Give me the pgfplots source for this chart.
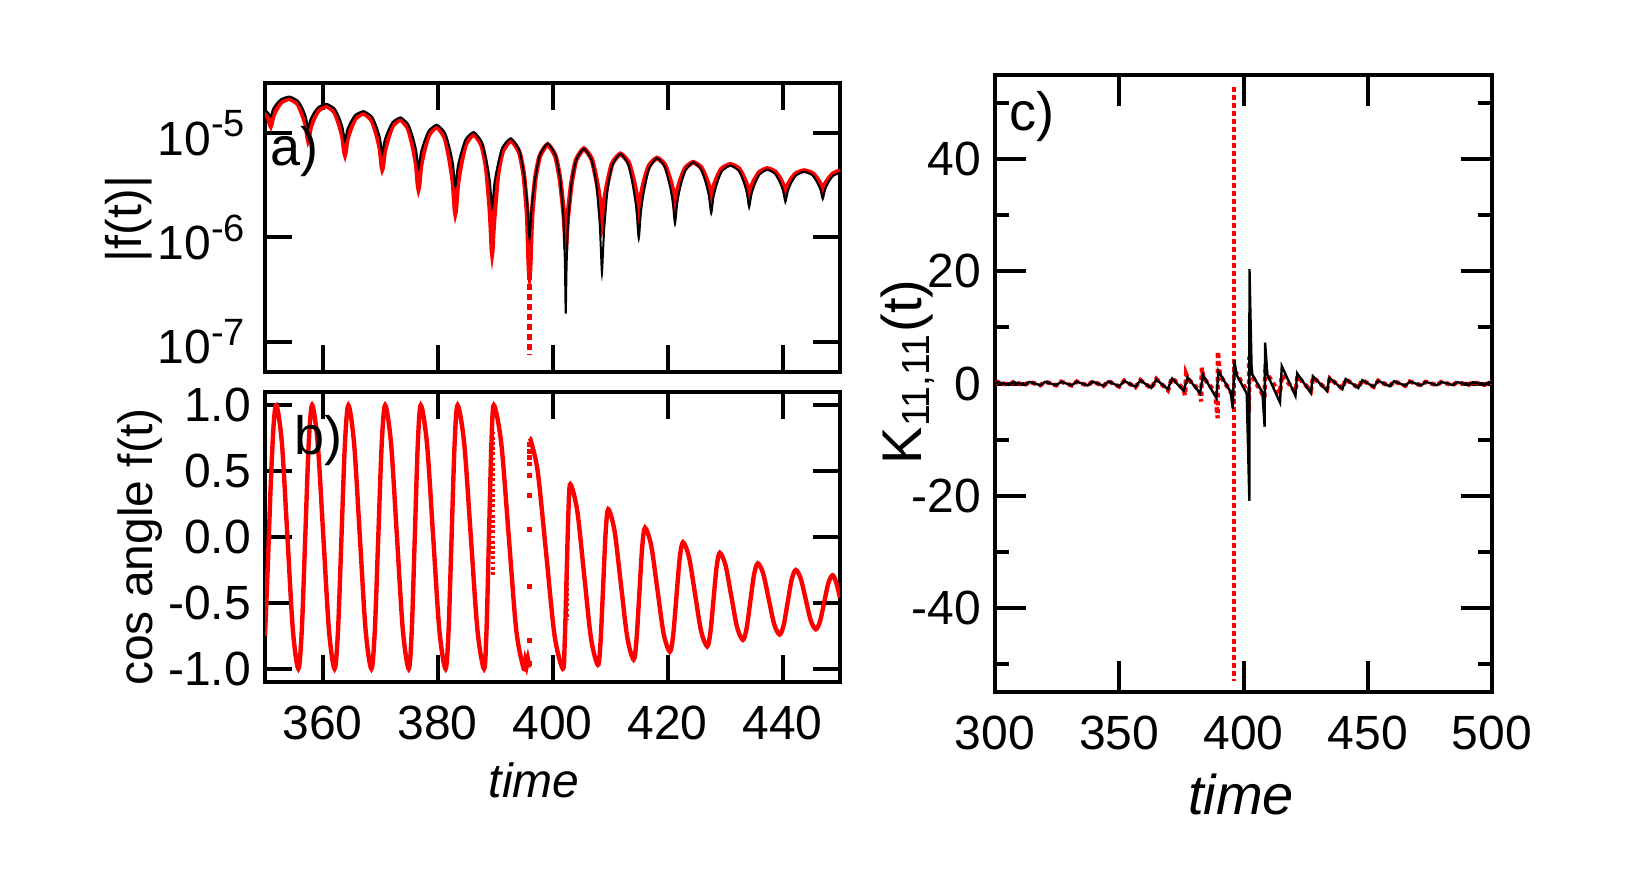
\documentclass[border=0pt]{standalone}
\usepackage{fontspec}
\setmainfont{Liberation Sans}
\usepackage{pgfplots}
\pgfplotsset{compat=1.18}

\newcommand{\tenpow}[1]{10\raisebox{4.6pt}{\fontsize{9.5}{10}\selectfont #1}}

\pgfplotsset{
  frame/.style={
    scale only axis,
    anchor=south west,
    axis line style={line width=1pt},
    tick style={black, line width=1pt},
    tick align=inside,
    major tick length=6.7pt,
    minor tick length=3.6pt,
    ticklabel style={font=\fontsize{12}{14}\selectfont},
    xticklabel style={yshift=-2.5pt},
  },
  reddots/.style={red, line width=1.1pt, dash pattern=on 1.1pt off 0.9pt},
}

\begin{document}
\begin{tikzpicture}[font=\fontsize{12}{14}\selectfont]
\path (0pt,0pt) rectangle (407pt,223pt);

% a) |f(t)| (log10 values)
\begin{axis}[frame, at={(66.25pt,130pt)}, width=143.75pt, height=72.25pt,
  xmin=350, xmax=450, ymin=-7.29, ymax=-4.52,
  xtick={360,380,400,420,440}, xticklabels={},
  ytick={-7,-6,-5},
  yticklabels={\tenpow{-7},\tenpow{-6},\tenpow{-5}},
  yticklabel style={xshift=-1.5pt}]
\addplot[red, line width=1.2pt, smooth, tension=0.35] coordinates {
(350,-4.79) (350.6,-4.86) (351.0,-4.93) (351.4,-4.84) (352.0,-4.77) (352.8,-4.704) (354.25,-4.67)
(355.7,-4.72) (356.5,-4.82) (357.1,-4.92) (357.5,-5.06) (357.9,-4.95) (358.5,-4.86) (359.3,-4.782) (360.7,-4.74)
(362.1,-4.80) (362.9,-4.915) (363.5,-5.04) (363.9,-5.20) (364.3,-5.06) (364.9,-4.96) (365.7,-4.86) (367.15,-4.81)
(368.6,-4.88) (369.4,-5.01) (370.0,-5.15) (370.4,-5.34) (370.8,-5.175) (371.4,-5.05) (372.2,-4.93) (373.55,-4.87)
(374.9,-4.956) (375.7,-5.12) (376.3,-5.30) (376.7,-5.53) (377.1,-5.32) (377.7,-5.16) (378.5,-5.017) (379.9,-4.94)
(381.3,-5.047) (382.1,-5.25) (382.7,-5.47) (383.1,-5.76) (383.5,-5.50) (384.1,-5.295) (384.9,-5.108) (386.3,-5.01)
(387.7,-5.12) (388.5,-5.34) (389.1,-5.72) (389.35,-5.97) (389.5,-6.14) (389.65,-5.98) (389.9,-5.78) (390.5,-5.40) (391.3,-5.18) (392.75,-5.07)
(394.2,-5.18) (395.0,-5.40) (395.6,-5.78) (395.85,-6.20) (395.97,-6.35) (396.03,-6.35) (396.15,-6.21) (396.4,-5.82) (397.0,-5.44) (397.8,-5.22) (399.15,-5.11)
(400.5,-5.22) (401.3,-5.44) (401.9,-5.74) (402.15,-5.93) (402.3,-6.12) (402.45,-5.97) (402.7,-5.78) (403.3,-5.48) (404.1,-5.26) (405.45,-5.15)
(406.8,-5.248) (407.6,-5.435) (408.2,-5.64) (408.6,-5.90) (409.0,-5.655) (409.6,-5.47) (410.4,-5.29) (411.8,-5.20)
(413.2,-5.278) (414.0,-5.43) (414.6,-5.59) (415.0,-5.80) (415.4,-5.60) (416.0,-5.45) (416.8,-5.313) (418.15,-5.24)
(419.5,-5.30) (420.3,-5.42) (420.9,-5.545) (421.3,-5.71) (421.7,-5.56) (422.3,-5.443) (423.1,-5.336) (424.45,-5.28)
(425.8,-5.327) (426.6,-5.417) (427.2,-5.514) (427.6,-5.64) (428.0,-5.52) (428.6,-5.43) (429.4,-5.344) (430.9,-5.30)
(432.4,-5.34) (433.2,-5.418) (433.8,-5.50) (434.2,-5.61) (434.6,-5.515) (435.2,-5.443) (436.0,-5.375) (437.35,-5.34)
(438.7,-5.371) (439.5,-5.43) (440.1,-5.496) (440.5,-5.58) (440.9,-5.503) (441.5,-5.444) (442.3,-5.389) (443.75,-5.36)
(445.2,-5.386) (446.0,-5.436) (446.6,-5.49) (447.0,-5.56) (447.4,-5.49) (448.0,-5.44) (448.8,-5.39) (450,-5.36)};
\addplot[red, line width=1.2pt, dash pattern=on 1.5pt off 1pt] coordinates {(396.0,-6.35) (396.0,-7.12)};
\addplot[black, line width=0.5pt, smooth, tension=0.35] coordinates {
(350,-4.78) (350.6,-4.81) (351.0,-4.84) (351.4,-4.77) (352.0,-4.72) (352.8,-4.675) (354.25,-4.65)
(355.7,-4.69) (356.5,-4.76) (357.1,-4.845) (357.5,-4.95) (357.9,-4.87) (358.5,-4.807) (359.3,-4.75) (360.7,-4.72)
(362.1,-4.765) (362.9,-4.85) (363.5,-4.95) (363.9,-5.07) (364.3,-4.97) (364.9,-4.896) (365.7,-4.826) (367.15,-4.79)
(368.6,-4.842) (369.4,-4.94) (370.0,-5.05) (370.4,-5.19) (370.8,-5.07) (371.4,-4.98) (372.2,-4.894) (373.55,-4.85)
(374.9,-4.914) (375.7,-5.036) (376.3,-5.17) (376.7,-5.34) (377.1,-5.19) (377.7,-5.08) (378.5,-4.975) (379.9,-4.92)
(381.3,-4.997) (382.1,-5.14) (382.7,-5.30) (383.1,-5.51) (383.5,-5.33) (384.1,-5.19) (384.9,-5.058) (386.3,-4.99)
(387.7,-5.084) (388.5,-5.26) (389.1,-5.46) (389.5,-5.71) (389.9,-5.48) (390.5,-5.30) (391.3,-5.136) (392.75,-5.05)
(394.2,-5.16) (395.0,-5.38) (395.6,-5.67) (396.0,-6.01) (396.4,-5.69) (397.0,-5.43) (397.8,-5.21) (399.15,-5.10)
(400.5,-5.21) (401.3,-5.43) (401.9,-5.81) (402.15,-6.23) (402.3,-6.73) (402.45,-6.28) (402.7,-5.86) (403.3,-5.48) (404.1,-5.26) (405.45,-5.15)
(406.8,-5.26) (407.6,-5.48) (408.2,-5.86) (408.45,-6.17) (408.6,-6.35) (408.75,-6.18) (409.0,-5.91) (409.6,-5.53) (410.4,-5.31) (411.8,-5.20)
(413.2,-5.305) (414.0,-5.51) (414.6,-5.73) (415.0,-6.01) (415.4,-5.74) (416.0,-5.53) (416.8,-5.34) (418.15,-5.24)
(419.5,-5.322) (420.3,-5.48) (420.9,-5.65) (421.3,-5.87) (421.7,-5.66) (422.3,-5.50) (423.1,-5.357) (424.45,-5.28)
(425.8,-5.344) (426.6,-5.466) (427.2,-5.60) (427.6,-5.77) (428.0,-5.61) (428.6,-5.485) (429.4,-5.37) (430.9,-5.31)
(432.4,-5.362) (433.2,-5.46) (433.8,-5.57) (434.2,-5.71) (434.6,-5.584) (435.2,-5.487) (436.0,-5.397) (437.35,-5.35)
(438.7,-5.39) (439.5,-5.468) (440.1,-5.55) (440.5,-5.66) (440.9,-5.56) (441.5,-5.48) (442.3,-5.408) (443.75,-5.37)
(445.2,-5.404) (446.0,-5.47) (446.6,-5.54) (447.0,-5.63) (447.4,-5.54) (448.0,-5.47) (448.8,-5.41) (450,-5.38)};
\end{axis}

% b) cos angle f(t)
\begin{axis}[frame, at={(66.25pt,52.5pt)}, width=143.75pt, height=72.5pt,
  xmin=350, xmax=450, ymin=-1.1, ymax=1.1,
  xtick={360,380,400,420,440}, xticklabels={360,380,400,420,440},
  ytick={-1,-0.5,0,0.5,1}, yticklabels={-1.0,-0.5,0.0,0.5,1.0}]
\addplot[red, line width=1.1pt, smooth] coordinates {
(350,-0.75) (350.5,-0.2) (351.0,0.4) (351.5,0.85) (352.0,1.0)
(352.95,0.707) (353.9,0) (354.85,-0.707) (355.8,-1)
(356.4,-0.707) (357.0,0) (357.6,0.707) (358.2,1)
(359.175,0.707) (360.15,0) (361.125,-0.707) (362.1,-1)
(362.7,-0.707) (363.3,0) (363.9,0.707) (364.5,1)
(365.5,0.707) (366.5,0) (367.5,-0.707) (368.5,-1)
(369.1,-0.707) (369.7,0) (370.3,0.707) (370.9,1)
(371.925,0.707) (372.95,0) (373.975,-0.707) (375.0,-1)
(375.525,-0.707) (376.05,0) (376.575,0.707) (377.1,1)
(378.175,0.707) (379.25,0) (380.325,-0.707) (381.4,-1)
(381.925,-0.707) (382.45,0) (382.975,0.707) (383.5,1)
(384.65,0.707) (385.8,0) (386.95,-0.707) (388.1,-1)
(388.525,-0.707) (388.95,0) (389.375,0.707) (389.8,1)
(391.1,0.707) (392.4,0) (393.7,-0.707) (395.0,-1)
(395.3,-0.93) (395.5,-0.98) (395.7,-0.92) (395.9,-0.99)};
\addplot[red, line width=1.1pt, smooth] coordinates {
(396.0,0.75) (396.3,0.72) (397.45,0.49) (398.9,-0.125) (400.35,-0.745) (401.8,-1.0)
(402.125,-0.80) (402.45,-0.30) (402.775,0.20) (403.1,0.40)
(404.3,0.20) (405.5,-0.285) (406.7,-0.77) (407.9,-0.97)
(408.35,-0.80) (408.8,-0.38) (409.25,0.04) (409.7,0.21)
(410.8,0.044) (411.9,-0.36) (413.0,-0.76) (414.1,-0.93)
(414.6,-0.784) (415.1,-0.43) (415.6,-0.076) (416.1,0.07)
(417.175,-0.067) (418.25,-0.40) (419.325,-0.733) (420.4,-0.87)
(420.975,-0.749) (421.55,-0.455) (422.125,-0.161) (422.7,-0.04)
(423.75,-0.155) (424.8,-0.435) (425.85,-0.715) (426.9,-0.83)
(427.45,-0.726) (428.0,-0.475) (428.55,-0.224) (429.1,-0.12)
(430.1,-0.216) (431.1,-0.45) (432.1,-0.684) (433.1,-0.78)
(433.75,-0.695) (434.4,-0.49) (435.05,-0.285) (435.7,-0.20)
(436.65,-0.279) (437.6,-0.47) (438.55,-0.661) (439.5,-0.74)
(440.2,-0.668) (440.9,-0.495) (441.6,-0.322) (442.3,-0.25)
(443.175,-0.316) (444.05,-0.475) (444.925,-0.634) (445.8,-0.70)
(446.525,-0.64) (447.25,-0.495) (447.975,-0.35) (448.7,-0.29)
(449.3,-0.34) (450,-0.46)};
\addplot[red, line width=1.1pt, dash pattern=on 0.7pt off 0.6pt] coordinates {(389.65,0.8) (389.65,-0.3)};
\addplot[red, line width=1.1pt, dash pattern=on 0.7pt off 0.6pt] coordinates {(402.5,-0.07) (402.5,-0.63)};
\addplot[red, only marks, mark=square*, mark size=0.42pt] coordinates {
(395.97,0.70) (395.97,0.65) (395.97,0.605) (395.97,0.554) (395.97,0.465) (395.97,0.312)
(395.97,0.057) (395.97,-0.376) (395.97,-0.783) (395.97,-0.962)};
\end{axis}

% c) K_{11,11}(t)
\begin{axis}[frame, at={(248.75pt,50pt)}, width=124.25pt, height=154.25pt,
  xmin=300, xmax=500, ymin=-55, ymax=55,
  major tick length=7.7pt,
  xtick={300,350,400,450,500}, xticklabels={300,350,400,450,500},
  ytick={-40,-20,0,20,40}, yticklabels={-40,-20,0,20,40},
  minor ytick={-50,-30,-10,10,30,50}]
\addplot[reddots] coordinates {
(300.0,0.0) (301.2,0.27) (305.5,-0.27) (307.5,0.27) (311.9,-0.3) (313.9,0.3) (318.2,-0.32) (320.2,0.32)
(324.6,-0.33) (326.6,0.33) (330.9,-0.35) (332.9,0.35) (337.3,-0.38) (339.3,0.38) (343.6,-0.45) (345.6,0.42)
(350.0,-0.55) (352.0,0.5) (356.5,-0.65) (358.5,0.6) (362.9,-0.85) (364.9,0.8) (369.6,-1.2) (371.2,1.0)
(375.7,-0.9) (376.5,-2.1) (376.9,1.7) (377.7,0.8)
(382.2,-1.2) (383.0,-3.2) (383.2,2.8) (383.9,1.0)
(388.6,-1.5) (389.6,-6.2) (389.7,5.7) (390.5,1.5)
(395.6,-2.0) (396.2,-2.0)};
\addplot[reddots] coordinates {(396.2,52.8) (396.2,-53)};
\addplot[reddots] coordinates {
(396.2,2.0) (396.8,2.0)
(401.8,-1.6) (402.2,-5.0) (402.3,4.8) (403.3,1.5)
(408.4,-2.5) (408.8,2.2) (414.6,-1.8) (415.5,1.5) (420.9,-1.5) (421.7,1.3)
(427.1,-1.3) (428.0,1.1) (433.6,-1.1) (434.7,0.9) (439.8,-0.9) (441.1,0.75) (446.2,-0.75) (447.8,0.6)
(452.4,-0.6) (454.2,0.5) (458.8,-0.5) (460.6,0.4) (465.1,-0.4) (466.9,0.35) (471.5,-0.35) (473.3,0.3)
(477.8,-0.3) (479.6,0.28) (484.2,-0.28) (486.0,0.25) (490.5,-0.25) (492.3,0.25) (496.9,-0.25) (498.7,0.25) (500,0.1)};
\addplot[black, line width=0.6pt] coordinates {
(300.0,0.0) (301.2,0.25) (305.5,-0.25) (307.5,0.25) (311.9,-0.28) (313.9,0.28) (318.2,-0.3) (320.2,0.3)
(324.6,-0.3) (326.6,0.3) (330.9,-0.32) (332.9,0.32) (337.3,-0.35) (339.3,0.35) (343.6,-0.42) (345.6,0.38)
(350.0,-0.5) (352.0,0.45) (356.5,-0.6) (358.5,0.55) (362.9,-0.8) (364.9,0.72) (369.5,-1.0) (371.3,0.9)
(375.9,-1.3) (377.5,1.1) (382.5,-1.75) (383.7,1.5) (389.1,-2.6) (389.9,2.2)
(394.8,-1.5) (395.7,-4.5) (396.3,4.2) (397.2,1.6)
(401.3,-1.8) (402.35,-20.9) (402.4,20.4) (403.3,1.8)
(407.6,-1.6) (408.5,-7.7) (408.7,7.3) (409.6,1.6)
(414.7,-3.4) (415.4,3.1) (420.9,-2.2) (421.6,1.8) (427.1,-1.7) (427.9,1.3) (433.6,-1.3) (434.6,1.0)
(439.8,-1.0) (441.1,0.8) (446.2,-0.8) (447.8,0.6) (452.4,-0.6) (454.2,0.5) (458.8,-0.5) (460.6,0.4)
(465.1,-0.4) (466.9,0.35) (471.5,-0.35) (473.3,0.3) (477.8,-0.3) (479.6,0.28) (484.2,-0.28) (486.0,0.25)
(490.5,-0.25) (492.3,0.25) (496.9,-0.25) (498.7,0.25) (500,0.1)};
\end{axis}

% axis titles and panel tags
\node[rotate=90, font=\fontsize{12.5}{14}\selectfont] at (32.25pt,168.25pt) {|f(t)|};
\node[rotate=90, font=\fontsize{12}{14}\selectfont] at (35pt,86.25pt) {cos angle f(t)};
\node[font=\fontsize{12}{14}\selectfont\itshape] at (133.5pt,28pt) {time};
\node[font=\fontsize{14}{16}\selectfont\itshape] at (310.25pt,24.5pt) {time};
\node[rotate=90, font=\fontsize{14}{16}\selectfont] at (226.9pt,130pt) {K\textsubscript{11,11}(t)};
\node[anchor=north west, inner sep=0pt, font=\fontsize{13.5}{15}\selectfont] at (67.5pt,191.5pt) {a)};
\node[anchor=north west, inner sep=0pt, font=\fontsize{13.5}{15}\selectfont] at (73.5pt,119.25pt) {b)};
\node[anchor=north west, inner sep=0pt, font=\fontsize{13.5}{15}\selectfont] at (252.25pt,200.25pt) {c)};
\end{tikzpicture}
\end{document}
